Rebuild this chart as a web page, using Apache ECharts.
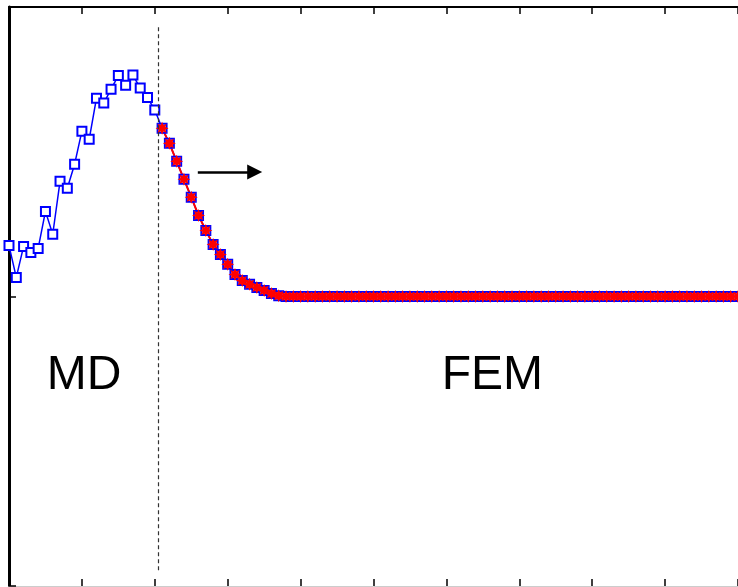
<!DOCTYPE html>
<html>
<head>
<meta charset="utf-8">
<script src="https://cdn.jsdelivr.net/npm/echarts@6/dist/echarts.min.js"></script>
<style>
  html, body { margin: 0; padding: 0; background: #fff; }
  #main { width: 738px; height: 587px; }
</style>
</head>
<body>
<div id="main"></div>
<script>
// MD region (blue squares only)
const mdX = [0, 0.1, 0.2, 0.3, 0.4, 0.5, 0.6, 0.7, 0.8, 0.9, 1.0,
             1.1, 1.2, 1.3, 1.4, 1.5, 1.6, 1.7, 1.8, 1.9, 2.0];
const mdY = [0.176, 0.066, 0.173, 0.152, 0.166, 0.294, 0.215, 0.398, 0.374, 0.457, 0.571,
             0.543, 0.685, 0.668, 0.716, 0.763, 0.730, 0.765, 0.720, 0.687, 0.644];

// FEM region (red stars, blue continues underneath)
const femX = [2.1, 2.2, 2.3, 2.4, 2.5, 2.6, 2.7, 2.8, 2.9, 3.0,
              3.1, 3.2, 3.3, 3.4, 3.5, 3.6, 3.7, 3.8, 3.9, 4.0,
              4.1, 4.2, 4.3, 4.4, 4.5, 4.6, 4.7, 4.8, 4.9, 5.0,
              5.1, 5.2, 5.3, 5.4, 5.5, 5.6, 5.7, 5.8, 5.9, 6.0,
              6.1, 6.2, 6.3, 6.4, 6.5, 6.6, 6.7, 6.8, 6.9, 7.0,
              7.1, 7.2, 7.3, 7.4, 7.5, 7.6, 7.7, 7.8, 7.9, 8.0,
              8.1, 8.2, 8.3, 8.4, 8.5, 8.6, 8.7, 8.8, 8.9, 9.0,
              9.1, 9.2, 9.3, 9.4, 9.5, 9.6, 9.7, 9.8, 9.9, 10.0];
const femY = [0.581, 0.529, 0.467, 0.405, 0.343, 0.280, 0.228, 0.180, 0.145, 0.111,
              0.076, 0.055, 0.042, 0.031, 0.021, 0.010, 0.003, 0, 0, 0,
              0, 0, 0, 0, 0, 0, 0, 0, 0, 0,
              0, 0, 0, 0, 0, 0, 0, 0, 0, 0,
              0, 0, 0, 0, 0, 0, 0, 0, 0, 0,
              0, 0, 0, 0, 0, 0, 0, 0, 0, 0,
              0, 0, 0, 0, 0, 0, 0, 0, 0, 0,
              0, 0, 0, 0, 0, 0, 0, 0, 0, 0];

const xTicks = [0, 1, 2, 3, 4, 5, 6, 7, 8, 9, 10];
const regionLabels = ['MD', 'FEM'];
const boundaryX = 2.05;
const arrowFrom = [2.59, 0.43];
const arrowTo = [3.37, 0.43];

const zip = (xs, ys) => xs.map((x, i) => [x, ys[i]]);
const blueData = zip(mdX.concat(femX), mdY.concat(femY));
const redData = zip(femX, femY);

// 8-point burst, like a plotted asterisk
const starPath = 'path://M10,0 L5.1,2.1 L7.07,7.07 L2.1,5.1 L0,10 L-2.1,5.1 L-7.07,7.07 L-5.1,2.1 L-10,0 L-5.1,-2.1 L-7.07,-7.07 L-2.1,-5.1 L0,-10 L2.1,-5.1 L7.07,-7.07 L5.1,-2.1 Z';

const chart = echarts.init(document.getElementById('main'));

const xAxisBase = {
  type: 'value',
  min: xTicks[0],
  max: xTicks[xTicks.length - 1],
  interval: 1,
  axisLabel: { show: false },
  splitLine: { show: false },
  axisTick: { show: true, inside: true, length: 7, lineStyle: { color: '#000', width: 1.5 } }
};

chart.setOption({
  animation: false,
  backgroundColor: '#fff',
  grid: { left: 9, top: 7, width: 736, height: 579 },
  xAxis: [
    Object.assign({}, xAxisBase, { position: 'bottom', axisLine: { onZero: false, lineStyle: { color: '#ccc', width: 1 } } }),
    Object.assign({}, xAxisBase, { position: 'top', axisLine: { onZero: false, lineStyle: { color: '#000', width: 2 } } })
  ],
  yAxis: {
    type: 'value', min: -1, max: 1, interval: 1,
    axisLabel: { show: false },
    splitLine: { show: false },
    axisLine: { show: true, lineStyle: { color: '#000', width: 3 } },
    axisTick: { show: true, inside: true, length: 7, lineStyle: { color: '#000', width: 1.5 } }
  },
  series: [
    {
      name: 'blue', type: 'line', data: blueData,
      symbol: 'emptyRect', symbolSize: 9,
      lineStyle: { color: '#0000ff', width: 1.5 },
      itemStyle: { color: '#0000ff', borderColor: '#0000ff', borderWidth: 1.5 },
      markLine: {
        silent: true, symbol: 'none', label: { show: false },
        lineStyle: { color: '#333', type: [4, 3], width: 1.2 },
        data: [[{ coord: [boundaryX, 0.93] }, { coord: [boundaryX, -0.95] }]]
      }
    },
    {
      name: 'red', type: 'line', data: redData,
      symbol: starPath, symbolSize: 13,
      lineStyle: { color: '#ff0000', width: 2 },
      itemStyle: { color: '#ff0000' },
      markLine: {
        silent: true, label: { show: false },
        symbol: ['none', 'triangle'], symbolSize: [15, 15],
        lineStyle: { color: '#000', type: 'solid', width: 2.5 },
        itemStyle: { color: '#000' },
        data: [[{ coord: arrowFrom }, { coord: arrowTo }]]
      }
    }
  ]
});

// region labels placed in data coordinates
const labelFont = '48px "Liberation Sans", Arial, sans-serif';
const p1 = chart.convertToPixel({ gridIndex: 0 }, [1.03, -0.275]);
const p2 = chart.convertToPixel({ gridIndex: 0 }, [6.63, -0.275]);
chart.setOption({
  graphic: [
    { type: 'text', x: p1[0], y: p1[1], style: { text: regionLabels[0], font: labelFont, fill: '#000', align: 'center', verticalAlign: 'middle' } },
    { type: 'text', x: p2[0], y: p2[1], style: { text: regionLabels[1], font: labelFont, fill: '#000', align: 'center', verticalAlign: 'middle' } }
  ]
});
</script>
</body>
</html>
